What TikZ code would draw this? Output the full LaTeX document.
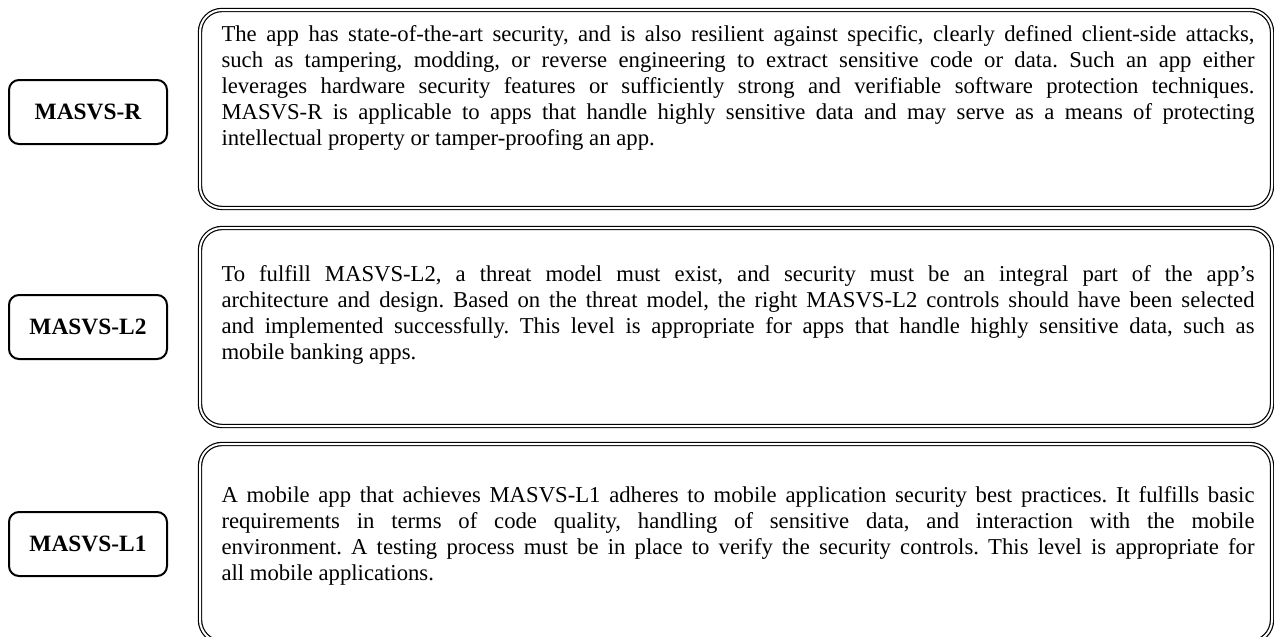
\documentclass[tikz,border=0pt]{standalone}
\usepackage{fontspec}
\setmainfont{Liberation Serif}
\tikzstyle{levelbox}=[draw,rounded corners=5pt,line width=1pt,minimum width=79pt,minimum height=32pt,inner sep=0pt,font=\fontsize{11.7}{13}\selectfont\bfseries]
\tikzstyle{framebox}=[draw,rounded corners=11pt,line width=0.6pt,double,double distance=1pt,minimum width=536pt,minimum height=99pt,inner sep=0pt]
\tikzstyle{bodytext}=[text width=516.5pt,align=justify,inner sep=0pt,font=\fontsize{11.35}{13}\selectfont\frenchspacing]

\begin{document}
\begin{tikzpicture}[x=0.5pt,y=-0.5pt]
    \useasboundingbox (0,0) rectangle (1274,637);
    \node[framebox] (f1) at (736,109) {};
    \node[framebox] (f2) at (736,327) {};
    \node[framebox] (f3) at (736,543) {};

    \foreach \lvl/\y in {R/112,L2/327,L1/544}
    \node[levelbox] (l\lvl) at (88,\y) {MASVS-\lvl};

    \node[bodytext] (t1) at (738,88) {The app has state-of-the-art security, and is also resilient against specific, clearly defined client-side attacks,\linebreak
    such as tampering, modding, or reverse engineering to extract sensitive code or data. Such an app either\linebreak
    leverages hardware security features or sufficiently strong and verifiable software protection techniques.\linebreak
    MASVS-R is applicable to apps that handle highly sensitive data and may serve as a means of protecting\linebreak
    intellectual property or tamper-proofing an app.};
    \node[bodytext] (t2) at (738,315) {To fulfill MASVS-L2, a threat model must exist, and security must be an integral part of the app's\linebreak
    architecture and design. Based on the threat model, the right MASVS-L2 controls should have been selected\linebreak
    and implemented successfully. This level is appropriate for apps that handle highly sensitive data, such as\linebreak
    mobile banking apps.};
    \node[bodytext] (t3) at (738,536) {A mobile app that achieves MASVS-L1 adheres to mobile application security best practices. It fulfills basic\linebreak
    requirements in terms of code quality, handling of sensitive data, and interaction with the mobile\linebreak
    environment. A testing process must be in place to verify the security controls. This level is appropriate for\linebreak
    all mobile applications.};
\end{tikzpicture}
\end{document}
